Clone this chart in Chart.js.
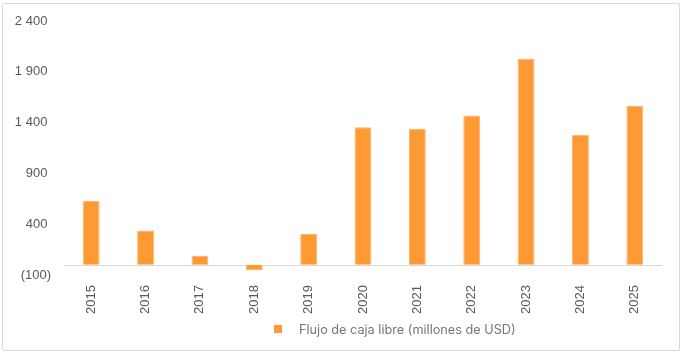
<!DOCTYPE html>
<html>
<head>
<meta charset="utf-8">
<script src="https://cdn.jsdelivr.net/npm/chart.js@4.4.1/dist/chart.umd.min.js"></script>
<style>
  html, body { margin: 0; padding: 0; background: #fff; }
  #wrap { position: relative; width: 683px; height: 353px; }
  #frame {
    position: absolute; left: 2px; top: 3px; width: 676px; height: 346px;
    border: 1px solid #d9d9d9; border-radius: 2px; pointer-events: none;
  }
  #legend {
    position: absolute; left: 274px; top: 320px; height: 18px;
    display: flex; align-items: center;
    font-family: Inter, "Liberation Sans", sans-serif; font-size: 12.7px; color: #767676;
  }
  #legend .box { width: 8px; height: 8px; background: #ff9933; margin-right: 17px; }
</style>
</head>
<body>
<div id="wrap">
  <canvas id="chart" width="683" height="353"></canvas>
  <div id="frame"></div>
  <div id="legend"><span class="box"></span><span id="legendText"></span></div>
</div>
<script>
const years = ["2015", "2016", "2017", "2018", "2019", "2020", "2021", "2022", "2023", "2024", "2025"];
const freeCashFlow = [630, 338, 89, -55, 305, 1355, 1339, 1470, 2028, 1280, 1565];
const yTicks = [-100, 400, 900, 1400, 1900, 2400];
const seriesLabel = "Flujo de caja libre (millones de USD)";

document.getElementById("legendText").textContent = seriesLabel;

// accounting style: space thousands, negatives in brackets, positives keep a trailing space
function fmt(v) {
  const s = String(Math.abs(v)).replace(/\B(?=(\d{3})+(?!\d))/g, " ");
  return v < 0 ? "(" + s + ")" : s + " ";
}

// draws the light axis line at value 0
const zeroLine = {
  id: "zeroLine",
  beforeDatasetsDraw(chart) {
    const { ctx, chartArea, scales } = chart;
    const y = Math.round(scales.y.getPixelForValue(0)) + 0.5;
    ctx.save();
    ctx.strokeStyle = "#d9d9d9";
    ctx.lineWidth = 1;
    ctx.beginPath();
    ctx.moveTo(chartArea.left, y);
    ctx.lineTo(chartArea.right, y);
    ctx.stroke();
    ctx.restore();
  },
};

new Chart(document.getElementById("chart").getContext("2d"), {
  type: "bar",
  data: {
    labels: years,
    datasets: [
      {
        label: seriesLabel,
        data: freeCashFlow,
        backgroundColor: "#ff9933",
        borderColor: "#ffb26b",
        borderWidth: 1,
        categoryPercentage: 1,
        barPercentage: 0.31,
      },
    ],
  },
  options: {
    responsive: false,
    animation: false,
    layout: { padding: { top: 21, right: 21, bottom: 0, left: 0 } },
    plugins: {
      legend: { display: false },
      tooltip: { enabled: false },
    },
    scales: {
      x: {
        grid: { display: false },
        border: { display: false },
        ticks: {
          minRotation: 90,
          maxRotation: 90,
          padding: 2,
          color: "#595959",
          font: { family: "'Liberation Sans', Arial, sans-serif", size: 13 },
        },
        afterFit(scale) { scale.height = 78; },
      },
      y: {
        min: -100,
        max: 2400,
        grid: { display: false },
        border: { display: false },
        afterBuildTicks(scale) {
          scale.ticks = yTicks.map((v) => ({ value: v }));
        },
        ticks: {
          padding: 5,
          color: "#595959",
          font: { family: "'Liberation Sans', Arial, sans-serif", size: 13 },
          callback: (v) => fmt(v),
        },
        afterFit(scale) { scale.width = 64; },
      },
    },
  },
  plugins: [zeroLine],
});
</script>
</body>
</html>
